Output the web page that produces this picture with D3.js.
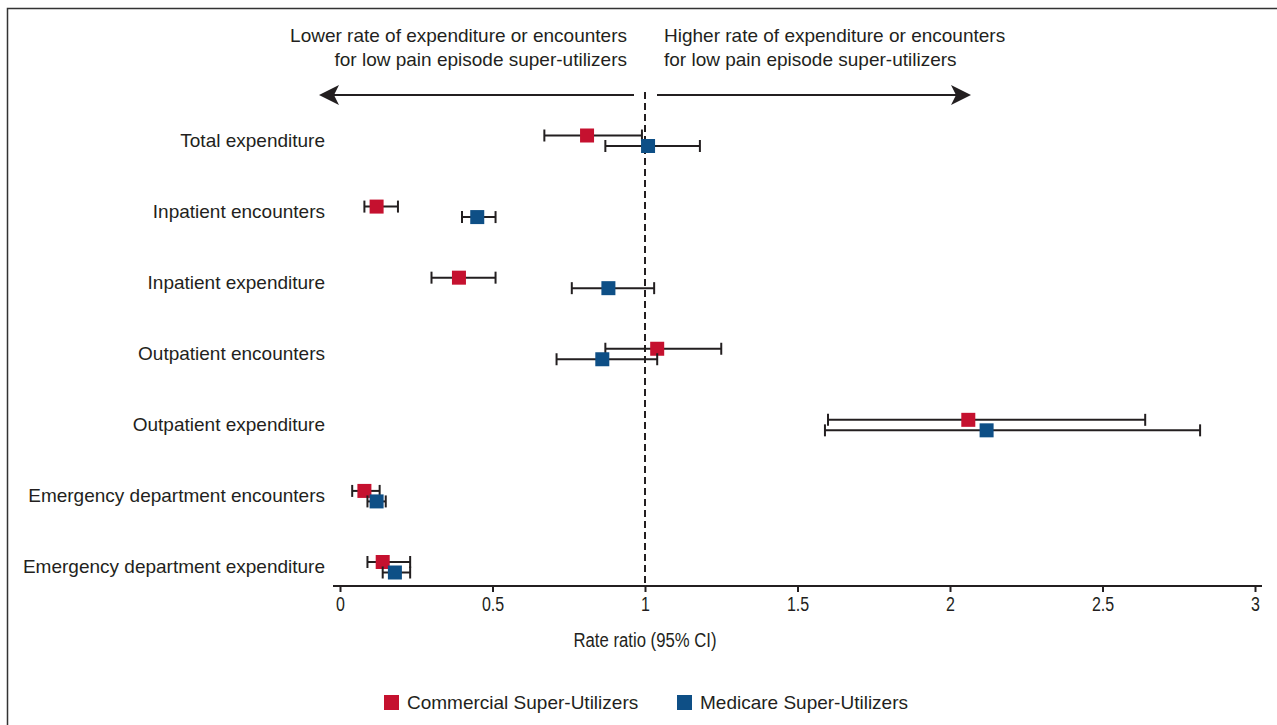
<!DOCTYPE html>
<html><head><meta charset="utf-8">
<script src="https://cdn.jsdelivr.net/npm/d3@7"></script>
<style>
body{margin:0;background:#fff;}
svg{display:block;}
</style></head>
<body><svg id="c" width="1277" height="725"></svg>
<script>
const categories = ["Total expenditure","Inpatient encounters","Inpatient expenditure","Outpatient encounters","Outpatient expenditure","Emergency department encounters","Emergency department expenditure"];
const seriesNames = ["Commercial Super-Utilizers","Medicare Super-Utilizers"];
const seriesColors = ["#c5112f","#0e4f86"];
const commercialRR = [0.81,0.12,0.39,1.04,2.06,0.08,0.14];
const commercialLo = [0.67,0.08,0.30,0.87,1.60,0.04,0.09];
const commercialHi = [0.99,0.19,0.51,1.25,2.64,0.13,0.23];
const medicareRR = [1.01,0.45,0.88,0.86,2.12,0.12,0.18];
const medicareLo = [0.87,0.40,0.76,0.71,1.59,0.09,0.14];
const medicareHi = [1.18,0.51,1.03,1.04,2.82,0.15,0.23];
const xTicks = [0,0.5,1,1.5,2,2.5,3];
const xTickLabels = ["0","0.5","1","1.5","2","2.5","3"];
const refValue = 1;

const svg = d3.select("#c");
const ink = "#231f20";
const font = "'Liberation Sans', Arial, sans-serif";

function condense(sel, f){
  sel.each(function(){
    const w = this.getComputedTextLength();
    d3.select(this).attr("textLength", w*f).attr("lengthAdjust","spacingAndGlyphs");
  });
}

// frame
svg.append("path").attr("d","M7.5,725 V8.5 H1277").attr("fill","none").attr("stroke","#333").attr("stroke-width",1.5);

const x = d3.scaleLinear().domain([0,3]).range([340,1255]);
const y = d3.scalePoint().domain(categories).range([140.5,567]);
const offsets = [-5,5.5];
const axisY = 586;

// axis
const axis = d3.axisBottom(x).tickValues(xTicks).tickFormat((d,i)=>xTickLabels[i]).tickSize(6).tickSizeOuter(0);
const gA = svg.append("g").attr("transform",`translate(0,${axisY})`).call(axis);
gA.select(".domain").attr("d","M333,0H1262").attr("stroke",ink).attr("stroke-width",2);
gA.selectAll(".tick line").attr("stroke",ink).attr("stroke-width",2);
gA.selectAll(".tick text").attr("font-family",font).attr("font-size",20).attr("fill",ink).attr("dy","0.95em").attr("y",6);
condense(gA.selectAll(".tick text"),0.8);
const xl = svg.append("text").attr("x",645).attr("y",647).attr("text-anchor","middle").attr("font-family",font).attr("font-size",20).attr("fill",ink).text("Rate ratio (95% CI)");
xl.attr("textLength",143).attr("lengthAdjust","spacingAndGlyphs");

// dashed reference line
svg.append("line").attr("x1",x(refValue)).attr("x2",x(refValue)).attr("y1",92).attr("y2",axisY)
  .attr("stroke",ink).attr("stroke-width",2).attr("stroke-dasharray","7,4");

// arrows
const defs = svg.append("defs");
defs.append("marker").attr("id","ah").attr("viewBox","0 0 10 10").attr("refX",9).attr("refY",5)
  .attr("markerWidth",20).attr("markerHeight",20).attr("markerUnits","userSpaceOnUse").attr("orient","auto-start-reverse")
  .append("path").attr("d","M0,0 L10,5 L0,10 L2.5,5 Z").attr("fill",ink);
svg.append("line").attr("x1",634).attr("x2",321).attr("y1",95).attr("y2",95).attr("stroke",ink).attr("stroke-width",2).attr("marker-end","url(#ah)");
svg.append("line").attr("x1",657).attr("x2",969).attr("y1",95).attr("y2",95).attr("stroke",ink).attr("stroke-width",2).attr("marker-end","url(#ah)");

// top annotations
const ann = [["Lower rate of expenditure or encounters","for low pain episode super-utilizers",627,"end"],
             ["Higher rate of expenditure or encounters","for low pain episode super-utilizers",664,"start"]];
ann.forEach(a=>{
  const t = svg.append("text").attr("font-family",font).attr("font-size",19).attr("fill",ink).attr("text-anchor",a[3]);
  t.append("tspan").attr("x",a[2]).attr("y",42).text(a[0]);
  t.append("tspan").attr("x",a[2]).attr("y",66).text(a[1]);
});

// row labels
svg.append("g").selectAll("text").data(categories).join("text")
  .attr("x",325).attr("y",d=>y(d)+6).attr("text-anchor","end")
  .attr("font-family",font).attr("font-size",19).attr("fill",ink).text(d=>d);

// series
const series = [
  {rr:commercialRR, lo:commercialLo, hi:commercialHi},
  {rr:medicareRR, lo:medicareLo, hi:medicareHi}
];
series.forEach((s,si)=>{
  const g = svg.append("g");
  const data = categories.map((c,i)=>({c, rr:s.rr[i], lo:s.lo[i], hi:s.hi[i]}));
  const yy = d=>y(d.c)+offsets[si];
  g.selectAll("line.ci").data(data).join("line").attr("class","ci")
    .attr("x1",d=>x(d.lo)).attr("x2",d=>x(d.hi)).attr("y1",yy).attr("y2",yy)
    .attr("stroke",ink).attr("stroke-width",2);
  g.selectAll("line.capl").data(data).join("line").attr("class","capl")
    .attr("x1",d=>x(d.lo)).attr("x2",d=>x(d.lo)).attr("y1",d=>yy(d)-6).attr("y2",d=>yy(d)+6)
    .attr("stroke",ink).attr("stroke-width",2);
  g.selectAll("line.caph").data(data).join("line").attr("class","caph")
    .attr("x1",d=>x(d.hi)).attr("x2",d=>x(d.hi)).attr("y1",d=>yy(d)-6).attr("y2",d=>yy(d)+6)
    .attr("stroke",ink).attr("stroke-width",2);
  g.selectAll("rect").data(data).join("rect")
    .attr("x",d=>x(d.rr)-7).attr("y",d=>yy(d)-7).attr("width",14).attr("height",14)
    .attr("fill",seriesColors[si]);
});

// legend
const legX = [384,677];
const lg = svg.append("g");
seriesNames.forEach((n,i)=>{
  lg.append("rect").attr("x",legX[i]).attr("y",695).attr("width",15).attr("height",15).attr("fill",seriesColors[i]);
  lg.append("text").attr("x",legX[i]+23).attr("y",709).attr("font-family",font).attr("font-size",19).attr("fill",ink).text(n);
});
</script></body></html>
